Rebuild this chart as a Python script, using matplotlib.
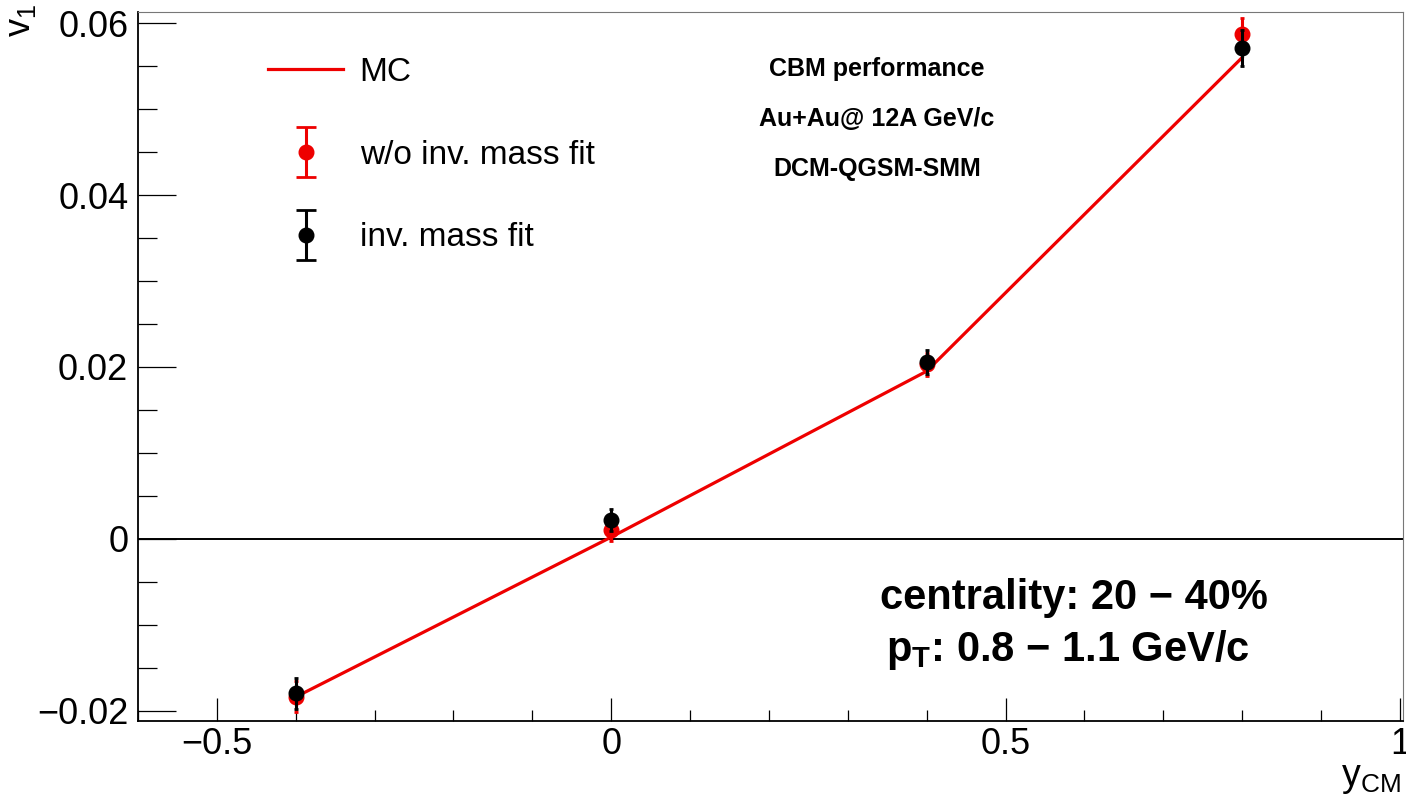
import numpy as np
import matplotlib
matplotlib.use("Agg")
import matplotlib.pyplot as plt
from matplotlib.container import ErrorbarContainer
from matplotlib.legend_handler import HandlerErrorbar
from matplotlib.ticker import MultipleLocator, FuncFormatter

# data
y_cm = [-0.4, 0.0, 0.4, 0.8]
v1_mc = [-0.0184, 0.0002, 0.0195, 0.0560]
v1_nofit = [-0.0184, 0.0010, 0.0203, 0.0587]
v1_nofit_err = [0.0018, 0.0012, 0.0013, 0.0019]
v1_fit = [-0.0180, 0.0022, 0.0206, 0.0571]
v1_fit_err = [0.0018, 0.0013, 0.0014, 0.0021]

labels = ["MC", "w/o inv. mass fit", "inv. mass fit"]
header = ["CBM performance", "Au+Au@ 12A GeV/c", "DCM-QGSM-SMM"]

plt.rcParams['font.family'] = ['Liberation Sans', 'DejaVu Sans']
plt.rcParams['mathtext.fontset'] = 'custom'
plt.rcParams['mathtext.rm'] = 'Liberation Sans'
plt.rcParams['mathtext.it'] = 'Liberation Sans:italic'
plt.rcParams['mathtext.bf'] = 'Liberation Sans:bold'

W, H = 1406, 808
fig = plt.figure(figsize=(W / 100, H / 100), dpi=100)
ax = fig.add_axes([138 / W, 1 - 721 / H, (1403 - 138) / W, (721 - 12) / H])

red = '#ee0000'
ax.axhline(0, color='black', lw=1.4, zorder=1)
line_mc, = ax.plot(y_cm, v1_mc, color=red, lw=2.3, zorder=2)
ax.errorbar(y_cm, v1_nofit, yerr=v1_nofit_err, fmt='o', color=red,
            ms=10.5, elinewidth=2.2, capsize=1.5, capthick=2, zorder=3)
ax.errorbar(y_cm, v1_fit, yerr=v1_fit_err, fmt='o', color='black',
            ms=10.5, elinewidth=2.2, capsize=1.5, capthick=2, zorder=4)

# legend proxies (no data), with the wider ROOT legend caps
proxy_red = ax.errorbar([np.nan], [np.nan], yerr=[1], fmt='o', color=red,
                        ms=10.5, elinewidth=2.2, capsize=7, capthick=2)
proxy_blk = ax.errorbar([np.nan], [np.nan], yerr=[1], fmt='o', color='black',
                        ms=10.5, elinewidth=2.2, capsize=7, capthick=2)

ax.set_xlim(-0.6, 1.004)
ax.set_ylim(-0.0212, 0.0613)

def fmt(v, pos):
    s = '%g' % round(v, 6)
    return s.replace('-', '\u2212')

ax.xaxis.set_major_locator(MultipleLocator(0.5))
ax.xaxis.set_minor_locator(MultipleLocator(0.1))
ax.yaxis.set_major_locator(MultipleLocator(0.02))
ax.yaxis.set_minor_locator(MultipleLocator(0.005))
ax.xaxis.set_major_formatter(FuncFormatter(fmt))
ax.yaxis.set_major_formatter(FuncFormatter(fmt))
ax.tick_params(axis='x', which='major', direction='in', length=16.5, width=0.9,
               labelsize=26, pad=4)
ax.tick_params(axis='x', which='minor', direction='in', length=8, width=0.9)
ax.tick_params(axis='y', which='major', direction='in', length=27, width=0.9,
               labelsize=26, pad=7)
ax.tick_params(axis='y', which='minor', direction='in', length=13.5, width=0.9)
for s in ['top', 'right']:
    ax.spines[s].set_color('#777777')
for s in ['left', 'bottom']:
    ax.spines[s].set_linewidth(1.3)

# axis titles at the ends, ROOT style
ax.text(-0.093, 1.012, r'$\mathrm{v}_{1}$', transform=ax.transAxes, rotation=90,
        ha='center', va='top', fontsize=26)
ax.text(0.9985, -0.055, r'$\mathrm{y}_{\mathrm{CM}}$', transform=ax.transAxes,
        ha='right', va='top', fontsize=27)

# header text
for i, t in enumerate(header):
    fig.text(877 / W, 1 - (69 + 50 * i) / H, t, ha='center', va='center',
             fontsize=18, fontweight='bold')

fig.text(1074 / W, 1 - 598 / H, 'centrality: 20 \u2212 40%', ha='center',
         va='center', fontsize=30, fontweight='bold')
fig.text(1068 / W, 1 - 650 / H, '$\\mathbf{p}_{\\mathbf{T}}$: 0.8 \u2212 1.1 GeV/c',
         ha='center', va='center', fontsize=30, fontweight='bold')

leg = ax.legend([line_mc, proxy_red, proxy_blk], labels, loc='upper left',
                bbox_to_anchor=(268 / W, 1 - 57 / H), bbox_transform=fig.transFigure,
                frameon=False, fontsize=24, handlelength=2.25, handletextpad=0.5,
                labelspacing=1.55, borderpad=0, borderaxespad=0,
                handler_map={ErrorbarContainer: HandlerErrorbar(yerr_size=0.75)})

fig.savefig('out.png', dpi=100)
